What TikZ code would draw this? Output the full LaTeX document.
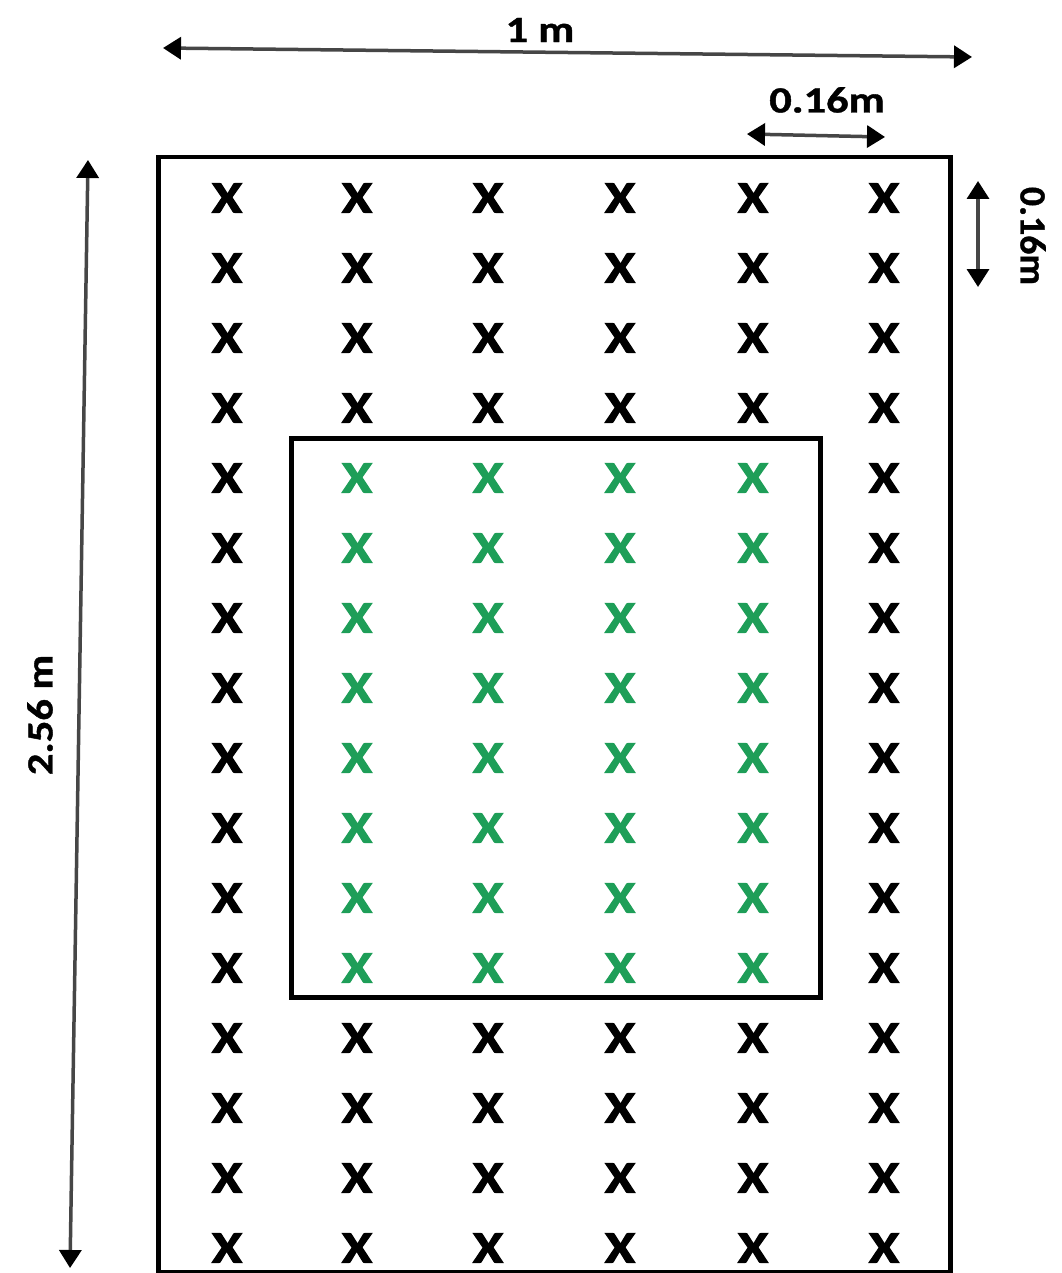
\documentclass[tikz,border=0pt]{standalone}
\usepackage{fontspec}
\setmainfont{Carlito}
\newfontfamily\xfont{Carlito}[BoldFeatures={FakeBold=2.2}]
\newfontfamily\lblfont{Carlito}[BoldFeatures={FakeBold=1}]
\usetikzlibrary{arrows.meta}
\definecolor{mkgreen}{RGB}{30,158,88}
\definecolor{dimgray}{RGB}{70,70,70}
\tikzset{
  frame/.style={draw=black,line width=4.5pt},
  xmark/.style={font=\xfont\bfseries\fontsize{45}{45}\selectfont,inner sep=0pt,xscale=1.22},
  dimline/.style={draw=dimgray,line width=3.5pt,{Triangle[length=18pt,width=22pt,color=black]}-{Triangle[length=18pt,width=22pt,color=black]}},
  dimlabel/.style={font=\lblfont\bfseries\fontsize{37}{37}\selectfont,inner sep=0pt},
}
\begin{document}
\begin{tikzpicture}[x=1pt,y=-1pt]
\useasboundingbox (0,0) rectangle (1061,1273);
\fill[white] (0,0) rectangle (1061,1273);
% frames
\node[frame,minimum width=792pt,minimum height=1115pt,inner sep=0pt,anchor=north west] (outer) at (156,155) {};
\node[frame,minimum width=529pt,minimum height=559pt,inner sep=0pt,anchor=north west] (inner) at (289,436) {};
% marks
\foreach \c/\xx in {0/227,1/357,2/488,3/620,4/753,5/884}{
  \foreach \r in {0,...,15}{
    \pgfmathsetmacro{\yy}{198+\r*70}
    \pgfmathparse{(\c>=1 && \c<=4 && \r>=4 && \r<=11) ? 1 : 0}
    \ifnum\pgfmathresult=1
      \node[xmark,text=mkgreen] (m\c-\r) at (\xx,\yy) {X};
    \else
      \node[xmark,text=black] (m\c-\r) at (\xx,\yy) {X};
    \fi
  }
}
% dimension arrows
\coordinate (wl) at (163,48);
\coordinate (wr) at (972,57);
\draw[dimline] (wl) -- (wr);
\node[dimlabel,xscale=1.2] (wlab) at (540,30) {1 m};
\coordinate (sl) at (747,134);
\coordinate (sr) at (885,137);
\draw[dimline] (sl) -- (sr);
\node[dimlabel,xscale=1.2] (slab) at (827,100) {0.16m};
\coordinate (vt) at (978,181);
\coordinate (vb) at (978,287);
\draw[dimline] (vt) -- (vb);
\node[dimlabel,rotate=-90,xscale=1.02] (vlab) at (1033,236) {0.16m};
\coordinate (ht) at (88,160);
\coordinate (hb) at (70,1268);
\draw[dimline] (ht) -- (hb);
\node[dimlabel,rotate=90,xscale=1.15] (hlab) at (40,715) {2.56 m};
\end{tikzpicture}
\end{document}
